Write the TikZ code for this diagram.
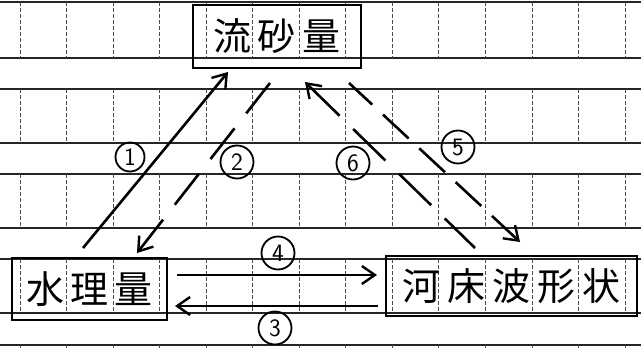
\documentclass[tikz,border=0pt]{standalone}
\usepackage{fontspec}
\newfontfamily\jp{Noto Sans CJK JP}
\usetikzlibrary{arrows.meta}
\tikzset{barbtip/.tip={Straight Barb[length=13pt,width=18pt,line width=2.4pt]}}
\begin{document}
\begin{tikzpicture}[x=1pt,y=-1pt,
  box/.style={draw, line width=2.3pt, inner sep=0pt, font=\jp\fontsize{38}{40}\selectfont},
  num/.style={circle, draw, line width=1.8pt, minimum size=33pt, inner sep=0pt, font=\sffamily\fontsize{25}{25}\selectfont},
  arrf/.style={line width=2.6pt, -{barbtip}},
  arrb/.style={line width=2.6pt, {barbtip}-},
  hline/.style={line width=1.5pt, black!85},
  vline/.style={line width=1pt, black!70, dash pattern=on 4pt off 2pt}]
\useasboundingbox (0,0) rectangle (641,348);
% graph paper
\foreach \y in {2,58,89,143,174,228,259,313,345} \draw[hline] (0,\y) -- (641,\y);
\foreach \a/\b in {2/58,89/143,174/228,259/313,345/348}
  \foreach \k in {0,...,13} \draw[vline] ({20+46.55*\k},\a) -- ({20+46.55*\k},\b);
% boxes
\node[box, minimum width=168pt, minimum height=63pt] (A) at (277,36.5) {流\hspace{7pt}砂\hspace{7pt}量};
\node[box, minimum width=155pt, minimum height=62pt] (B) at (89.5,289) {水\hspace{6pt}理\hspace{6pt}量};
\node[box, minimum width=251pt, minimum height=60pt] (C) at (511.5,286) {河\hspace{7pt}床\hspace{7pt}波\hspace{7pt}形\hspace{7pt}状};
% end points
\coordinate (s1) at (83,248);  \coordinate (e1) at (228,72);
\coordinate (s2) at (270,83);  \coordinate (e2) at (137,253);
\coordinate (s5) at (349,83);  \coordinate (e5) at (520,242);
\coordinate (s6) at (475,248); \coordinate (e6) at (305,82);
\coordinate (s4) at (177,275); \coordinate (e4) at (377,275);
\coordinate (s3) at (378,306); \coordinate (e3) at (175,306);
% connectors
\draw[arrf] (s1) -- (e1);
\draw[arrb, dash pattern=on 39pt off 19pt] (e2) -- (s2);
\draw[arrb, dash pattern=on 35pt off 14.6pt] (e5) -- (s5);
\draw[arrb, dash pattern=on 45pt off 19pt] (e6) -- (s6);
\draw[arrf] (s4) -- (e4);
\draw[arrf] (s3) -- (e3);
% labels
\node[num, minimum size=29pt] (n1) at (130,157) {1};
\node[num] (n2) at (237,162) {2};
\node[num] (n6) at (353,163) {6};
\node[num] (n5) at (458,147) {5};
\node[num] (n4) at (278,253) {4};
\node[num] (n3) at (275,328) {3};
\end{tikzpicture}
\end{document}
